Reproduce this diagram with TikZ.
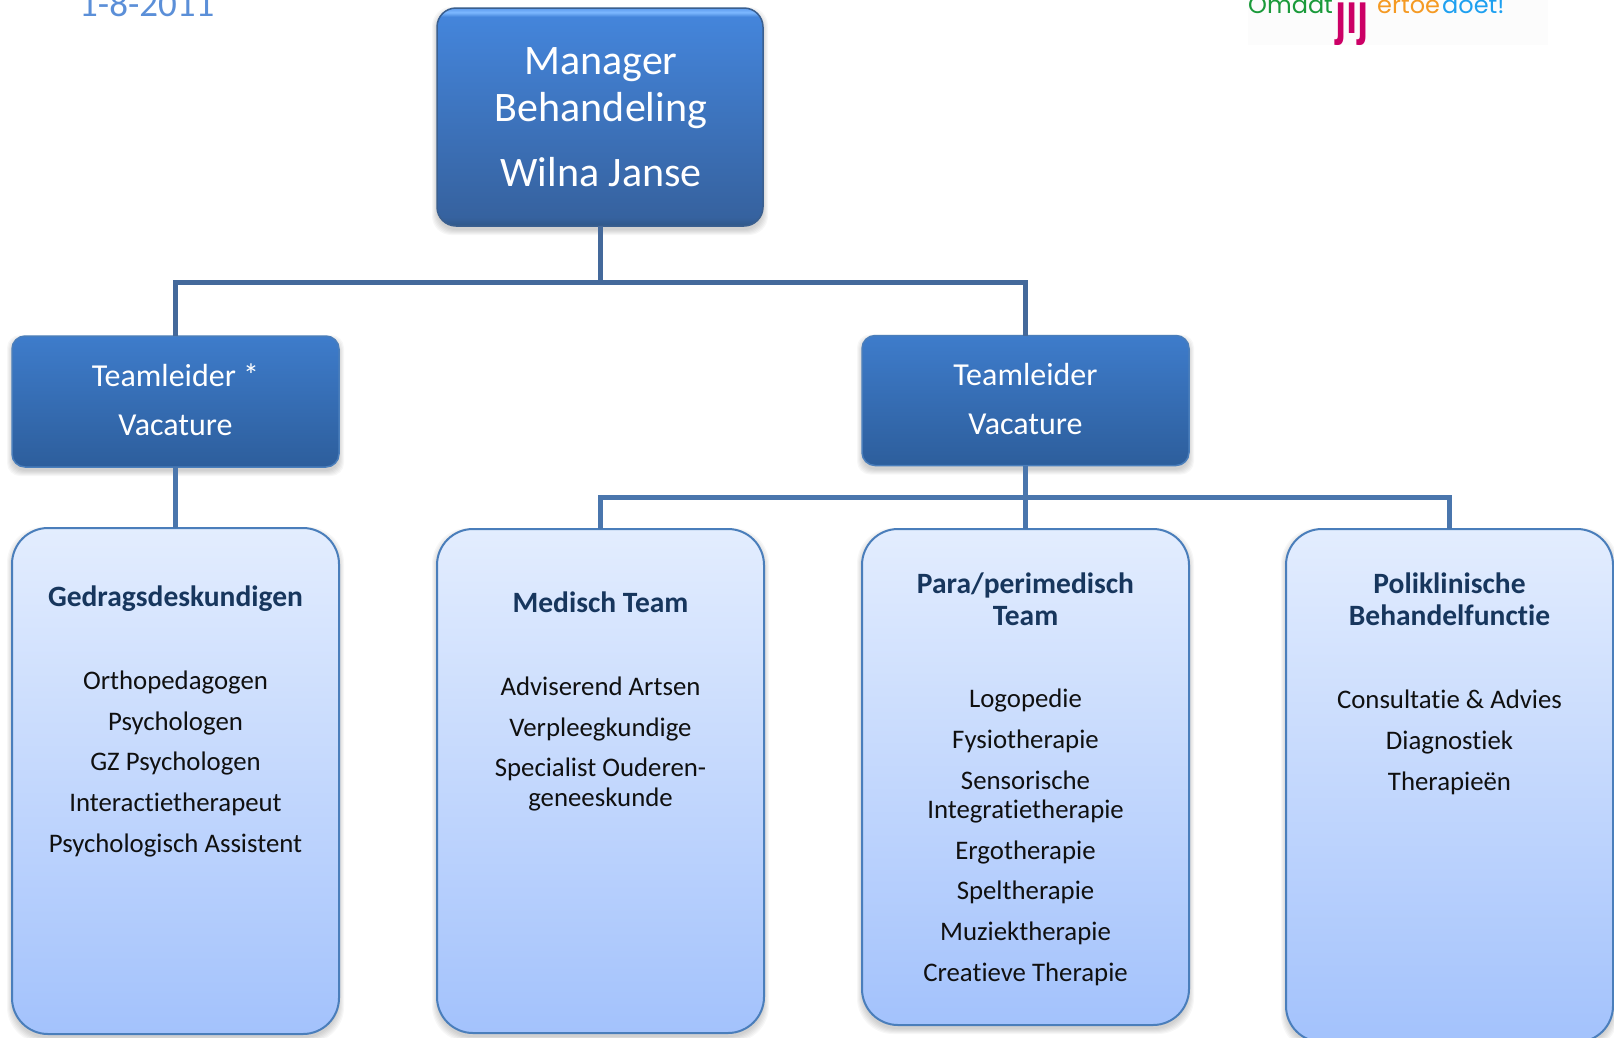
\documentclass[tikz,border=0pt]{standalone}
\usepackage{fontspec}
\setmainfont[Ligatures=NoCommon]{Carlito}
\newfontfamily\logofont{Poppins}
\newfontfamily\logobold{Liberation Sans}
\usetikzlibrary{backgrounds}
\definecolor{datecol}{HTML}{5B8FD8}
\definecolor{titlecol}{HTML}{17365D}
\definecolor{bodycol}{HTML}{101010}
\definecolor{busdark}{HTML}{44699B}
\definecolor{buslight}{HTML}{4A76AD}
\definecolor{lightedge}{HTML}{4A7EBB}
\definecolor{mgredge}{HTML}{3A5F8F}
\definecolor{HTeamTop}{HTML}{3E7CCB}
\definecolor{HTeamBot}{HTML}{2D5E9C}
\definecolor{HUnitTop}{HTML}{E3EDFE}
\definecolor{HUnitBot}{HTML}{A3C2FC}
\definecolor{ma}{HTML}{2F5788}
\definecolor{mb}{HTML}{36629F}
\definecolor{mc}{HTML}{4485DB}
\definecolor{md}{HTML}{7DB8FF}
\definecolor{me}{HTML}{5C9BEE}
\definecolor{logogreen}{HTML}{1A9A3A}
\definecolor{logopink}{HTML}{CC0066}
\definecolor{logoorange}{HTML}{F59A23}
\definecolor{logoblue}{HTML}{1EA0F0}
\definecolor{logoback}{HTML}{FCFCFC}
\pgfdeclareverticalshading{mgrshade}{100bp}{
 color(0bp)=(ma);color(25bp)=(ma);color(27bp)=(mb);
 color(73bp)=(mc);color(74bp)=(md);color(75bp)=(me);color(100bp)=(me)}
\newcommand{\pxf}[1]{\fontsize{#1}{#1}\selectfont}
\tikzset{
 mgrbox/.style={rounded corners=19pt,draw=mgredge,line width=1.5pt,shading=mgrshade,outer sep=0pt,inner sep=0pt},
 teambox/.style={rounded corners=13pt,draw=lightedge,line width=1.5pt,top color=HTeamTop,bottom color=HTeamBot,outer sep=0pt,inner sep=0pt},
 unitbox/.style={rounded corners=36pt,draw=lightedge,line width=2pt,top color=HUnitTop,bottom color=HUnitBot,outer sep=0pt,inner sep=0pt},
 busa/.style={draw=busdark,line width=5pt},
 busb/.style={draw=buslight,line width=5pt},
 mgrtext/.style={text=white,anchor=base,inner sep=0pt,font=\pxf{42}},
 teamtext/.style={text=white,anchor=base,inner sep=0pt,font=\pxf{32}},
 titletext/.style={text=titlecol,anchor=base,inner sep=0pt,font=\pxf{29.5}\bfseries},
 bodytext/.style={text=bodycol,anchor=base,inner sep=0pt,font=\pxf{26.8}},
 logotext/.style={anchor=base west,inner sep=0pt,font=\logofont\pxf{24}}
}
\newcommand{\softshadow}[2]{%
 \foreach \d in {0,1,...,5}{%
  \fill[black,opacity=.03,rounded corners=#2]
   ([shift={({-\d},{4-\d})}]#1.north west) rectangle ([shift={(\d,{4+\d})}]#1.south east);
 }}
\begin{document}
\begin{tikzpicture}[x=1pt,y=-1pt]
\useasboundingbox (0,0) rectangle (1614,1037);
\clip (0,0) rectangle (1614,1037);

% logo
\fill[logoback] (1248,0) rectangle (1548,45);
\node[logotext,text=logogreen] (logoa) at (1248,13) {Omdat};
\node[anchor=base,inner sep=0pt,text=logopink,xscale=.7,font=\logobold\bfseries\pxf{58}] (logob) at (1352,33) {jij};
\node[logotext,text=logoorange] (logoc) at (1377,13) {ertoe};
\node[logotext,text=logoblue] (logod) at (1442,13) {doet!};

% date
\node[anchor=base west,inner sep=0pt,text=datecol,font=\pxf{37}] (datum) at (79,16) {1-8-2011};

% boxes
\node[mgrbox,minimum width=326pt,minimum height=218pt] (mgr) at (600,117) {};
\node[teambox,minimum width=327pt,minimum height=131pt] (tla) at (175.5,401.5) {};
\node[teambox,minimum width=327pt,minimum height=130pt] (tlb) at (1025.5,400.5) {};
\node[unitbox,minimum width=327pt,minimum height=506pt] (gedrag) at (175.5,781) {};
\node[unitbox,minimum width=327pt,minimum height=504pt] (medisch) at (600.5,781) {};
\node[unitbox,minimum width=327pt,minimum height=496pt] (para) at (1025.5,777) {};
\node[unitbox,minimum width=327pt,minimum height=513pt] (poli) at (1449.5,785.5) {};

\begin{scope}[on background layer]
 \fill[white] (0,0) rectangle (1614,1037);
 \softshadow{mgr}{19pt}
 \softshadow{tla}{13pt}
 \softshadow{tlb}{13pt}
 \softshadow{gedrag}{36pt}
 \softshadow{medisch}{36pt}
 \softshadow{para}{36pt}
 \softshadow{poli}{36pt}
\end{scope}

% connectors
\coordinate (busone) at (600,282);
\coordinate (bustwo) at (1025.5,497);
\draw[busa] (mgr.south) -- (busone);
\draw[busa] (tla.north) |- (busone) -| (tlb.north);
\draw[busb] (tla.south) -- (gedrag.north);
\draw[busb] (tlb.south) -- (para.north);
\draw[busb] (medisch.north) |- (bustwo) -| (poli.north);

% manager and team texts
\node[mgrtext] (mta) at (601,74) {Manager};
\node[mgrtext] (mtb) at (601,121) {Behandeling};
\node[mgrtext] (mtc) at (601,186) {Wilna Janse};
\node[teamtext] (ta) at (175.5,386) {Teamleider *};
\node[teamtext] (tb) at (175.5,435) {Vacature};
\node[teamtext] (tc) at (1025.5,385) {Teamleider};
\node[teamtext] (td) at (1025.5,434) {Vacature};

% Gedragsdeskundigen
\node[titletext] (ga) at (175.5,606) {Gedragsdeskundigen};
\node[bodytext] (gb) at (175.5,689) {Orthopedagogen};
\node[bodytext] (gc) at (175.5,730) {Psychologen};
\node[bodytext] (gd) at (175.5,770) {GZ Psychologen};
\node[bodytext] (ge) at (175.5,811) {Interactietherapeut};
\node[bodytext] (gf) at (175.5,852) {Psychologisch Assistent};

% Medisch
\node[titletext] (da) at (600.5,612) {Medisch Team};
\node[bodytext] (db) at (600.5,695) {Adviserend Artsen};
\node[bodytext] (dc) at (600.5,736) {Verpleegkundige};
\node[bodytext] (dd) at (600.5,776) {Specialist Ouderen-};
\node[bodytext] (de) at (600.5,806) {geneeskunde};

% Para
\node[titletext] (pa) at (1025.5,593) {Para/perimedisch};
\node[titletext] (pb) at (1025.5,625) {Team};
\node[bodytext] (pc) at (1025.5,707) {Logopedie};
\node[bodytext] (pd) at (1025.5,748) {Fysiotherapie};
\node[bodytext] (pe) at (1025.5,789) {Sensorische};
\node[bodytext] (pf) at (1025.5,818) {Integratietherapie};
\node[bodytext] (pg) at (1025.5,859) {Ergotherapie};
\node[bodytext] (ph) at (1025.5,899) {Speltherapie};
\node[bodytext] (pi) at (1025.5,940) {Muziektherapie};
\node[bodytext] (pj) at (1025.5,981) {Creatieve Therapie};

% Poli
\node[titletext] (ka) at (1449.5,593) {Poliklinische};
\node[titletext] (kb) at (1449.5,625) {Behandelfunctie};
\node[bodytext] (kc) at (1449.5,708) {Consultatie \& Advies};
\node[bodytext] (kd) at (1449.5,749) {Diagnostiek};
\node[bodytext] (ke) at (1449.5,790) {Therapieën};
\end{tikzpicture}
\end{document}
